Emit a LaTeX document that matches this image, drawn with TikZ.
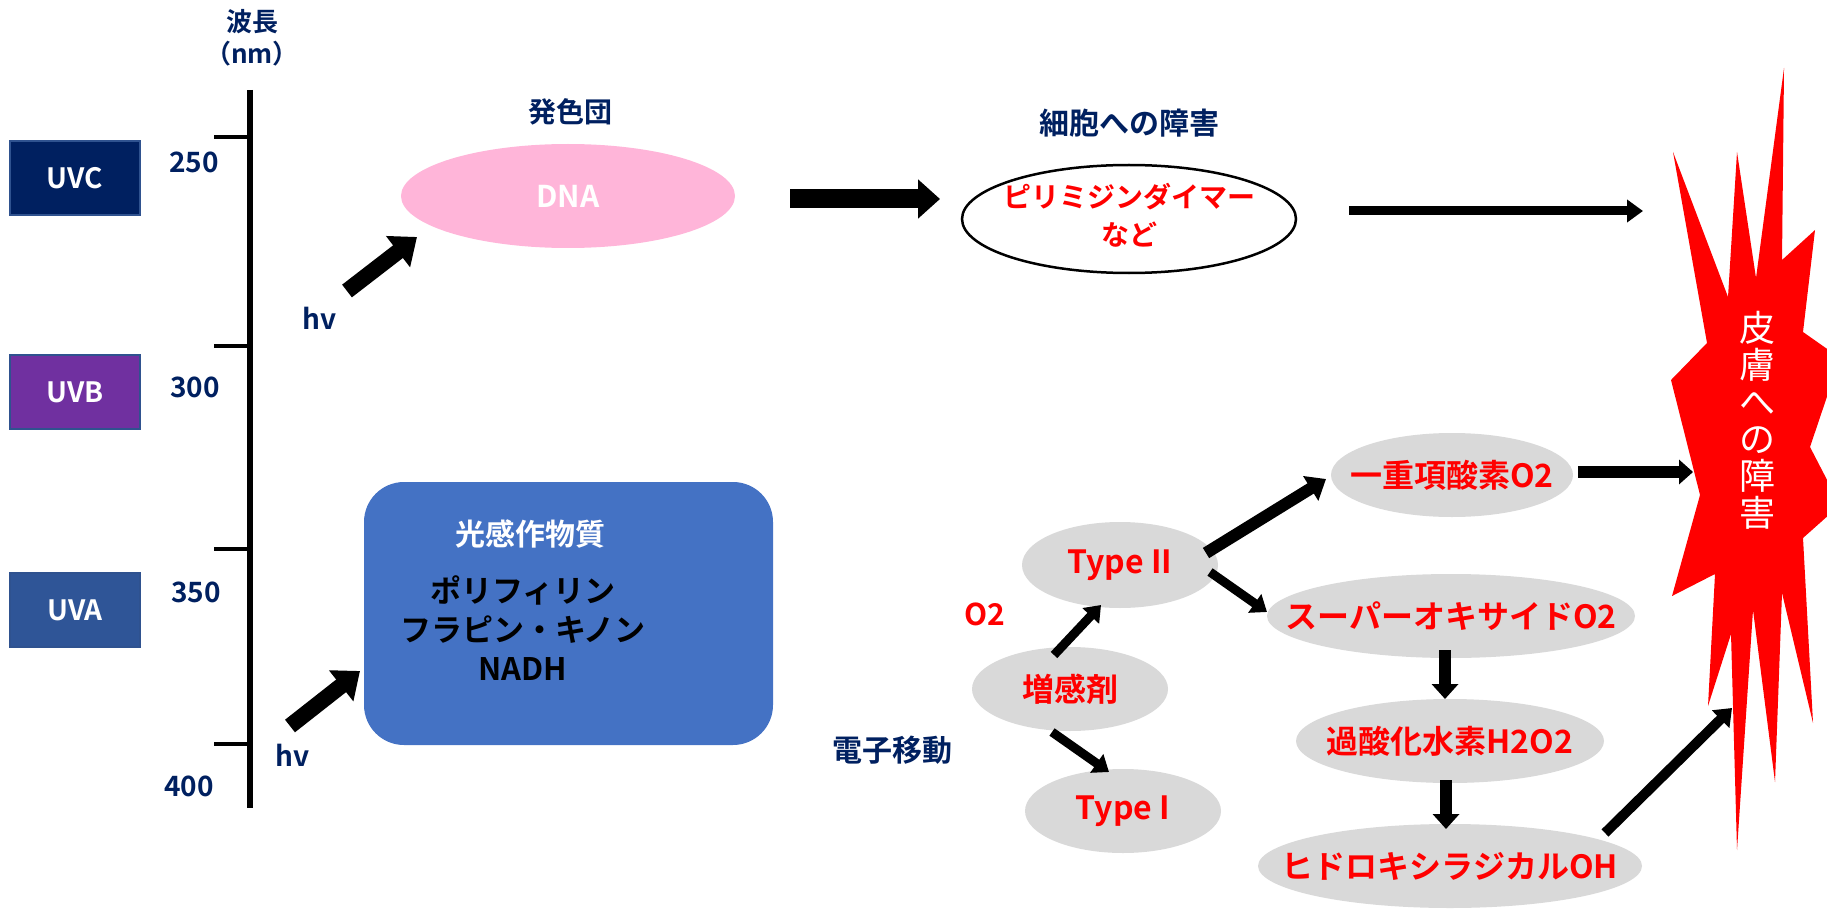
\documentclass[tikz,border=0pt]{standalone}
\usepackage{fontspec}
\setmainfont{Noto Sans CJK JP}[BoldFont={Noto Sans CJK JP Bold}]
\usetikzlibrary{shapes.geometric,arrows.meta}
\definecolor{navy}{RGB}{0,32,96}
\definecolor{uvc}{RGB}{0,32,96}
\definecolor{uvb}{RGB}{112,48,160}
\definecolor{uva}{RGB}{47,85,151}
\definecolor{uvedge}{RGB}{47,82,143}
\definecolor{dnapink}{RGB}{255,181,217}
\definecolor{boxblue}{RGB}{68,114,196}
\definecolor{lgray}{RGB}{217,217,217}
\definecolor{starred}{RGB}{255,0,0}
\newcommand\fsz[2]{\fontsize{#1}{#2}\selectfont}
\newcommand\zw[1]{\makebox[0pt]{#1}}
\begin{document}
\begin{tikzpicture}[x=1pt,y=-1pt,
  lab/.style={inner sep=0, text=navy, font=\bfseries\fsz{28}{32}},
  uvbox/.style={draw=uvedge, line width=1.5pt, minimum width=130pt, minimum height=74pt, inner sep=0, text=white, font=\bfseries\fsz{28}{32}},
  grayell/.style={ellipse, fill=lgray, inner sep=0, text=red, font=\bfseries\fsz{32}{36}},
  fatarrow/.style={line width=16pt, -{Triangle[length=24pt,width=38pt]}},
  bigarrow/.style={line width=19pt, -{Triangle[length=22pt,width=38pt]}},
  midarrow/.style={line width=9pt, -{Triangle[length=15pt,width=22pt]}},
  thkarrow/.style={line width=12pt, -{Triangle[length=15pt,width=26pt]}}
]
\useasboundingbox (0,0) rectangle (1827,909);

% wavelength axis
\node[lab, align=center, font=\bfseries\fsz{26}{32}] (wl) at (252,38) {波長\\（nm）};
\draw[line width=6pt] (250,90) -- (250,808);
\foreach \yy in {137,346,549,744} \draw[line width=3.5pt] (214,\yy) -- (250,\yy);
\node[lab] (n250) at (194,162) {250};
\node[lab] (n300) at (195,387) {300};
\node[lab] (n350) at (196,592) {350};
\node[lab] (n400) at (189,786) {400};

% UV boxes
\node[uvbox, fill=uvc] (UVC) at (75,178) {UVC};
\node[uvbox, fill=uvb] (UVB) at (75,392) {UVB};
\node[uvbox, fill=uva] (UVA) at (75,610) {UVA};

% hv labels
\node[lab] (hv1) at (320,318) {hv};
\node[lab] (hv2) at (293,755) {hv};

% chromophore
\node[lab, font=\bfseries\fsz{28}{32}] (chromo) at (570,112) {発色団};
\node[ellipse, fill=dnapink, minimum width=334pt, minimum height=104pt, inner sep=0, text=white, font=\bfseries\fsz{30}{34}] (DNA) at (568,196) {DNA};

% cell damage
\node[lab, font=\bfseries\fsz{30}{34}] (celltitle) at (1129,123) {細胞への障害};
\node[ellipse, draw=black, line width=2.5pt, fill=white, minimum width=334pt, minimum height=108pt, inner sep=0, text=red, font=\bfseries\fsz{28}{38}] (dimer) at (1129,219) {\zw{\raisebox{-6pt}{\begin{tabular}{@{}c@{}}ピリミジンダイマー\\など\end{tabular}}}};

% photosensitizer box
\node[fill=boxblue, rounded corners=40pt, minimum width=409pt, minimum height=263pt, inner sep=0] (psbox) at (568.5,613.5) {};
\node[inner sep=0, text=white, font=\bfseries\fsz{30}{34}] (pstitle) at (530,534) {光感作物質};
\node[inner sep=0, text=black, align=center, font=\bfseries\fsz{31}{39}] (pslist) at (523,628) {ポリフィリン\\フラピン・キノン\\NADH};

% labels
\node[lab, font=\bfseries\fsz{30}{34}] (etrans) at (892,750) {電子移動};
\node[inner sep=0, text=red, font=\bfseries\fsz{30}{34}] (o2) at (985,614) {O2};

% gray ellipses
\node[grayell, minimum width=196pt, minimum height=86pt] (T2) at (1120,565) {\zw{Type II}};
\node[grayell, minimum width=196pt, minimum height=84pt] (sens) at (1070,689) {\zw{増感剤}};
\node[grayell, minimum width=196pt, minimum height=84pt] (T1) at (1123,811) {\zw{Type I}};
\node[grayell, minimum width=242pt, minimum height=84pt] (singlet) at (1452,475) {\zw{一重項酸素O2}};
\node[grayell, minimum width=368pt, minimum height=84pt] (super) at (1451,616) {\zw{スーパーオキサイドO2}};
\node[grayell, minimum width=308pt, minimum height=84pt] (h2o2) at (1450,741) {\zw{過酸化水素H2O2}};
\node[grayell, minimum width=384pt, minimum height=84pt] (oh) at (1450,866) {\zw{ヒドロキシラジカルOH}};

% star
\begin{scope}
\clip (0,0) rectangle (1827,909);
\fill[starred] (1784,68) -- (1782,260) -- (1815,230) -- (1803,332) -- (1840,358) -- (1810,447)
  -- (1840,505) -- (1803,538) -- (1813,723) -- (1782,593) -- (1775,782) -- (1753,610)
  -- (1737,850) -- (1731,634) -- (1708,706) -- (1715,574) -- (1672,596) -- (1700,495)
  -- (1671,380) -- (1707,343) -- (1673,152) -- (1728,297) -- (1737,152) -- (1756,278) -- cycle;
\end{scope}
\node[inner sep=0, text=white, align=center, font=\fsz{36}{37}] (skin) at (1757,420) {皮\\膚\\へ\\の\\障\\害};

% arrow end points
\coordinate (hv1s) at (347,291);
\coordinate (hv1e) at (417,237);
\coordinate (hv2s) at (290,726);
\coordinate (hv2e) at (360,671);
\coordinate (dnas) at (790,199);
\coordinate (dnae) at (940,199);
\coordinate (dims) at (1349,211);
\coordinate (dime) at (1643,211);
\coordinate (s2s) at (1054,655);
\coordinate (s2e) at (1101,605);
\coordinate (s1s) at (1052,732);
\coordinate (s1e) at (1109,772);
\coordinate (t2as) at (1206,553);
\coordinate (t2ae) at (1326,479);
\coordinate (t2bs) at (1210,572);
\coordinate (t2be) at (1267,612);
\coordinate (sups) at (1445,650);
\coordinate (supe) at (1445,699);
\coordinate (h2s) at (1446,780);
\coordinate (h2e) at (1446,829);
\coordinate (ohs) at (1605,833);
\coordinate (ohe) at (1732,708);
\coordinate (sgs) at (1578,472);
\coordinate (sge) at (1693,472);

% arrows
\draw[fatarrow] (hv1s) -- (hv1e);
\draw[fatarrow] (hv2s) -- (hv2e);
\draw[bigarrow] (dnas) -- (dnae);
\draw[line width=9pt, -{Triangle[length=16pt,width=22pt]}] (dims) -- (dime);
\draw[midarrow] (s2s) -- (s2e);
\draw[midarrow] (s1s) -- (s1e);
\draw[line width=12pt, -{Triangle[length=18pt,width=28pt]}] (t2as) -- (t2ae);
\draw[midarrow] (t2bs) -- (t2be);
\draw[thkarrow] (sups) -- (supe);
\draw[thkarrow] (h2s) -- (h2e);
\draw[line width=10pt, -{Triangle[length=16pt,width=24pt]}] (ohs) -- (ohe);
\draw[line width=12pt, -{Triangle[length=14pt,width=24pt]}] (sgs) -- (sge);
\end{tikzpicture}
\end{document}
